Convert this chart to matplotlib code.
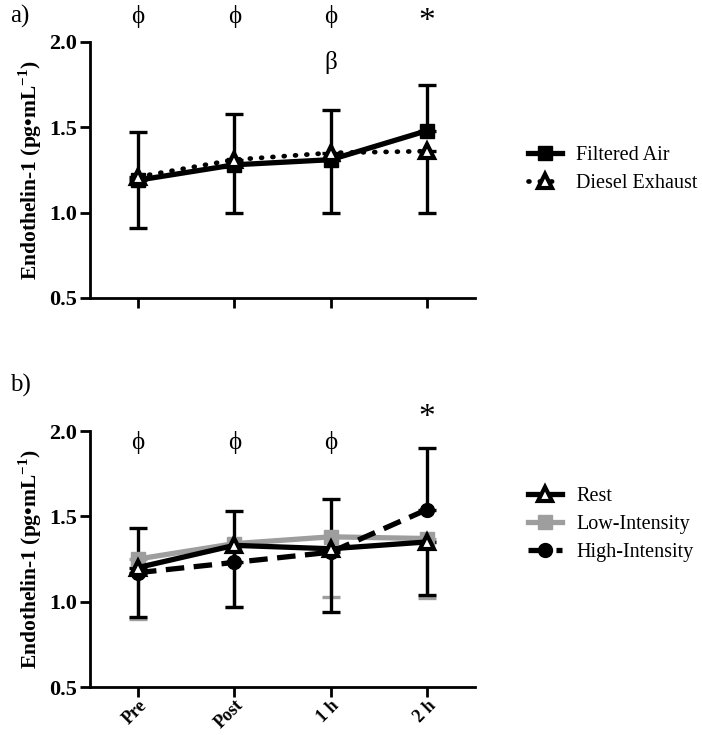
import matplotlib.pyplot as plt

plt.rcParams['font.family'] = ['Liberation Serif', 'DejaVu Serif']
plt.rcParams['mathtext.fontset'] = 'custom'
plt.rcParams['mathtext.rm'] = 'Liberation Serif'
plt.rcParams['mathtext.bf'] = 'Liberation Serif:bold'

times = ["Pre", "Post", "1 h", "2 h"]
x = [0, 1, 2, 3]

# panel a
fa = [1.19, 1.28, 1.31, 1.48]
fa_up = [0.28, 0.30, 0.29, 0.27]
de = [1.21, 1.31, 1.35, 1.36]
de_lo = [0.30, 0.31, 0.35, 0.36]

# panel b
rest = [1.20, 1.33, 1.31, 1.35]
rest_lo = [0.29, 0.36, 0.37, 0.31]
low = [1.25, 1.34, 1.38, 1.37]
low_lo = [0.35, 0.37, 0.35, 0.35]
high = [1.17, 1.23, 1.29, 1.54]
high_up = [0.26, 0.30, 0.31, 0.36]

fig = plt.figure(figsize=(7.02, 7.35), dpi=100)
ax1 = fig.add_axes([0.128, 0.5946, 0.549, 0.3484])
ax2 = fig.add_axes([0.128, 0.0653, 0.549, 0.3483])

lw = 3.8
ekw = dict(elinewidth=2.4, capsize=6.5, capthick=2.4)

# a)
ax1.errorbar(x, de, yerr=[de_lo, [0]*4], fmt='none', ecolor='black', **ekw, zorder=2)
ax1.errorbar(x, fa, yerr=[[0]*4, fa_up], fmt='none', ecolor='black', **ekw, zorder=2)
ax1.plot(x, fa, color='black', lw=lw, marker='s', ms=10, label='Filtered Air', zorder=3)
ax1.plot(x, de, color='black', lw=3.4, ls=(0, (0.2, 2.2)), dash_capstyle='round',
         marker='^', ms=10, mfc='white', mew=3, label='Diesel Exhaust', zorder=4)

# b)
ax2.errorbar(x, low, yerr=[low_lo, [0]*4], fmt='none', ecolor='#9e9e9e', **ekw, zorder=1)
ax2.errorbar(x, rest, yerr=[rest_lo, [0]*4], fmt='none', ecolor='black', **ekw, zorder=2)
ax2.errorbar(x, high, yerr=[[0]*4, high_up], fmt='none', ecolor='black', **ekw, zorder=2)
ax2.plot(x, rest, color='black', lw=lw, marker='^', ms=10, mfc='white', mew=3,
         label='Rest', zorder=5)
ax2.plot(x, low, color='#9e9e9e', lw=lw, marker='s', ms=10, label='Low-Intensity', zorder=3)
ax2.plot(x, high, color='black', lw=lw, ls=(0, (3.5, 1.8)), marker='o', ms=10,
         label='High-Intensity', zorder=4)

for ax in (ax1, ax2):
    ax.set_xlim(-0.5, 3.5)
    ax.set_ylim(0.5, 2.0)
    ax.set_yticks([0.5, 1.0, 1.5, 2.0])
    ax.set_yticklabels(['0.5', '1.0', '1.5', '2.0'], fontsize=16, fontweight='bold')
    ax.set_xticks(x)
    ax.spines['top'].set_visible(False)
    ax.spines['right'].set_visible(False)
    ax.spines['left'].set_linewidth(2)
    ax.spines['bottom'].set_linewidth(2)
    ax.tick_params(width=2, length=7, pad=2)
    ax.set_ylabel(r'Endothelin-1 (pg•mL$^{\mathbf{-1}}$)', fontsize=15.5,
                  fontweight='bold', labelpad=4)

ax1.set_xticklabels([])
ax2.set_xticklabels(times, rotation=45, ha='right', rotation_mode='anchor',
                    fontsize=13, fontweight='bold')
ax2.tick_params(axis='x', pad=0)

lkw = dict(loc='center left', frameon=False, fontsize=14.5, handlelength=1.7,
           handletextpad=0.7, labelspacing=0.45, borderpad=0, borderaxespad=0)
ax1.legend(bbox_to_anchor=(0.752, 0.769), bbox_transform=fig.transFigure, **lkw)
ax2.legend(bbox_to_anchor=(0.752, 0.286), bbox_transform=fig.transFigure, **lkw)

# annotations
fig.text(0.014, 0.978, 'a)', fontsize=18, va='center')
fig.text(0.014, 0.476, 'b)', fontsize=18, va='center')
for xi in x[:3]:
    ax1.text(xi, 2.15, 'ϕ', ha='center', va='center', fontsize=18)
    ax2.text(xi, 1.93, 'ϕ', ha='center', va='center', fontsize=18)
ax1.text(3, 2.12, '*', ha='center', va='center', fontsize=24)
ax1.text(2, 1.88, 'β', ha='center', va='center', fontsize=18)
ax2.text(3, 2.08, '*', ha='center', va='center', fontsize=24)

fig.savefig('out.png', dpi=100)
